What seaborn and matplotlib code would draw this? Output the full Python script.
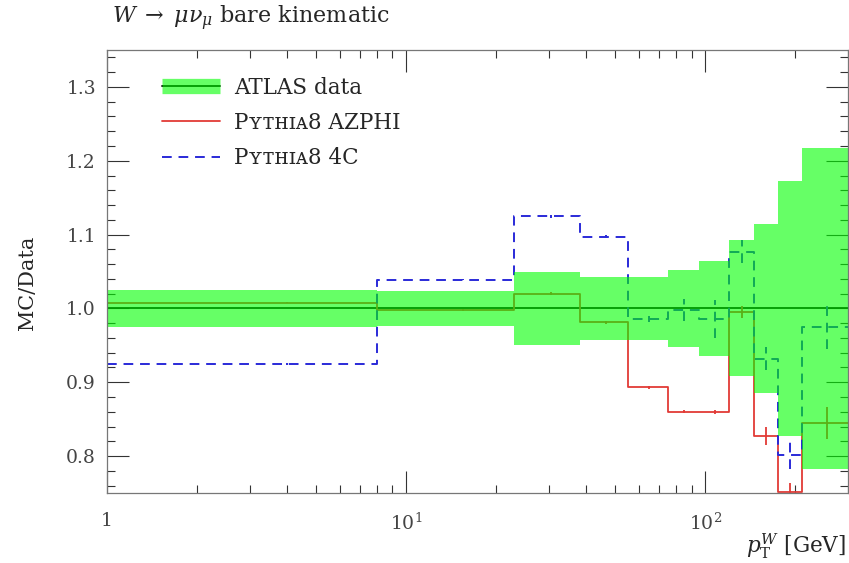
import numpy as np
import matplotlib
matplotlib.use("Agg")
import matplotlib.pyplot as plt
import seaborn as sns
from matplotlib.lines import Line2D
from matplotlib.legend_handler import HandlerTuple
from matplotlib.ticker import FixedLocator, LogLocator, NullFormatter, MultipleLocator

# W pT bins [GeV] and ratios to data
bin_edges = [0, 8, 23, 38, 55, 75, 95, 120, 145, 175, 210, 300]
data_ratio = [1.0, 1.0, 1.0, 1.0, 1.0, 1.0, 1.0, 1.0, 1.0, 1.0, 1.0]
data_err = [0.025, 0.024, 0.049, 0.043, 0.043, 0.052, 0.064, 0.092, 0.115, 0.173, 0.217]
azphi_ratio = [1.008, 0.998, 1.020, 0.981, 0.893, 0.860, 0.860, 0.995, 0.827, 0.751, 0.845]
azphi_err = [0.001, 0.001, 0.002, 0.002, 0.002, 0.002, 0.003, 0.008, 0.012, 0.012, 0.022]
c4_ratio = [0.925, 1.039, 1.125, 1.097, 0.986, 0.998, 0.986, 1.077, 0.932, 0.802, 0.975]
c4_err = [0.001, 0.001, 0.002, 0.002, 0.004, 0.015, 0.026, 0.016, 0.016, 0.02, 0.03]

x_range = (1, 300)
y_range = (0.75, 1.35)
x_tick_values = [1, 10, 100]
x_tick_labels = ["1", r"$10^{1}$", r"$10^{2}$"]
y_tick_values = [0.8, 0.9, 1.0, 1.1, 1.2, 1.3]
y_tick_labels = ["0.8", "0.9", "1.0", "1.1", "1.2", "1.3"]

sns.set_theme(style="ticks")
plt.rcParams["font.family"] = ["DejaVu Serif", "STIXGeneral", "DejaVu Sans"]
plt.rcParams["mathtext.fontset"] = "dejavuserif"

fig = plt.figure(figsize=(8.49, 5.63), dpi=100)
ax = fig.add_axes([107 / 849, 70 / 563, 741 / 849, 443 / 563])
ax.set_xscale("log")

edges = np.clip(np.array(bin_edges, dtype=float), x_range[0], None)
centers = 0.5 * (np.array(bin_edges[:-1]) + np.array(bin_edges[1:]))

red = "#e23a36"
blue = "#2a2ad8"
band_green = (0.0, 1.0, 0.0)
text_col = "#262626"


def stepped(vals):
    return np.append(vals, vals[-1])


# MC curves and reference line (drawn under the translucent data band)
sns.lineplot(x=edges, y=stepped(data_ratio), drawstyle="steps-post", estimator=None,
             sort=False, color="black", lw=1.3, ax=ax, zorder=2)
sns.lineplot(x=edges, y=stepped(azphi_ratio), drawstyle="steps-post", estimator=None,
             sort=False, color=red, lw=1.3, ax=ax, zorder=2)
sns.lineplot(x=edges, y=stepped(c4_ratio), drawstyle="steps-post", estimator=None,
             sort=False, color=blue, lw=1.4, ax=ax, zorder=2)
ax.lines[-1].set_dashes((5, 3.5))

az = np.array(azphi_ratio)
c4 = np.array(c4_ratio)
ax.vlines(centers, az - np.array(azphi_err), az + np.array(azphi_err), color=red, lw=1.3, zorder=2)
ax.vlines(centers, c4 - np.array(c4_err), c4 + np.array(c4_err), color=blue, lw=1.4,
          linestyles=(0, (5, 3.5)), zorder=2)

# Data uncertainty band
d = np.array(data_ratio)
e = np.array(data_err)
ax.fill_between(edges, stepped(d - e), stepped(d + e), step="post",
                color=band_green, alpha=0.6, lw=0, zorder=3)

ax.set_xlim(*x_range)
ax.set_ylim(*y_range)
ax.set_xlabel("")
ax.set_ylabel("")

ax.xaxis.set_major_locator(FixedLocator(x_tick_values))
ax.set_xticklabels(x_tick_labels)
ax.xaxis.set_minor_locator(LogLocator(base=10, subs=np.arange(2, 10)))
ax.xaxis.set_minor_formatter(NullFormatter())
ax.yaxis.set_major_locator(FixedLocator(y_tick_values))
ax.set_yticklabels(y_tick_labels)
ax.yaxis.set_minor_locator(MultipleLocator(0.02))

ax.tick_params(which="both", direction="in", top=True, right=True, color="#333333",
               labelsize=13.5, labelcolor="#444444")
ax.tick_params(which="major", length=16, width=0.8)
ax.tick_params(axis="x", which="major", pad=14)
ax.tick_params(axis="y", which="major", pad=8)
ax.tick_params(which="minor", length=6, width=0.8)
for s in ax.spines.values():
    s.set_color("#777777")
    s.set_linewidth(0.9)
    s.set_zorder(5)

# Legend
h_data = (Line2D([], [], color="black", lw=1.3),
          Line2D([], [], color=band_green, alpha=0.6, lw=11, solid_capstyle="butt"))
h_az = Line2D([], [], color=red, lw=1.3)
h_c4 = Line2D([], [], color=blue, lw=1.4, dashes=(5, 3.5))
ax.legend([h_data, h_az, h_c4],
          ["ATLAS data", "Pʏᴛʜɪᴀ8 AZPHI", "Pʏᴛʜɪᴀ8 4C"],
          handler_map={tuple: HandlerTuple(ndivide=1, pad=0)},
          loc="upper left", bbox_to_anchor=(46 / 741, 1 - 18 / 443), borderaxespad=0,
          frameon=False, fontsize=15.5, handlelength=2.7, handletextpad=0.65,
          labelspacing=0.62, labelcolor=text_col)

fig.text(112 / 849, 1 - 18 / 563, r"$W \;\rightarrow\; \mu\nu_\mu$ bare kinematic",
         fontsize=16, va="center", ha="left", color=text_col)
fig.text(28 / 849, 1 - 283 / 563, "MC/Data", rotation=90, fontsize=15,
         va="center", ha="center", color=text_col)
fig.text(846 / 849, 1 - 546 / 563, r"$p_\mathrm{T}^{W}$ [GeV]", fontsize=15.5,
         va="center", ha="right", color=text_col)

fig.savefig("out.png", dpi=100)
